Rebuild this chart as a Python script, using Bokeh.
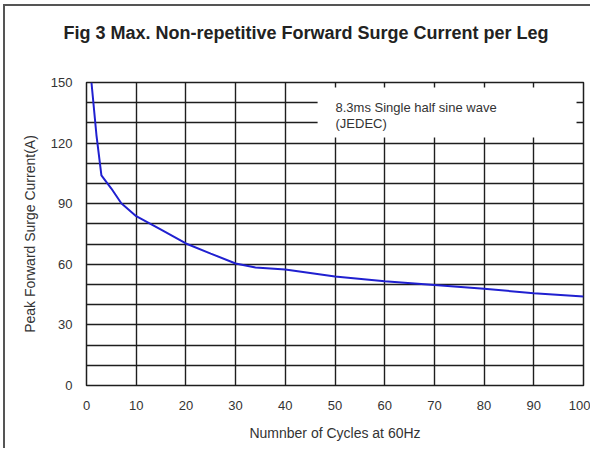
from bokeh.plotting import figure
from bokeh.models import Range1d, FixedTicker, BoxAnnotation, Label
from bokeh.embed import file_html
from bokeh.resources import INLINE

# ---- data ----
cycles = [1, 2, 3, 5, 7, 10, 15, 20, 25, 30, 34, 40, 50, 60, 70, 80, 90, 100]
surge_current = [150, 124, 104, 97.5, 90.2, 83.8, 77.2, 70.3, 65.3, 60.4,
                 58.4, 57.4, 54, 51.6, 49.8, 47.9, 45.7, 44]
x_ticks = [0, 10, 20, 30, 40, 50, 60, 70, 80, 90, 100]
y_ticks = [0, 30, 60, 90, 120, 150]
y_grid = [0, 10, 20, 30, 40, 50, 60, 70, 80, 90, 100, 110, 120, 130, 140, 150]

title_text = "Fig 3 Max. Non-repetitive Forward Surge Current per Leg"
x_label = "Numnber of Cycles at 60Hz"
y_label = "Peak Forward Surge Current(A)"
note_lines = ["8.3ms Single half sine wave", "(JEDEC)"]

FONT = "Liberation Sans"
GRID = "#1e1e1e"

p = figure(width=590, height=448, output_backend="svg", toolbar_location=None,
           x_range=Range1d(0, 100), y_range=Range1d(0, 150),
           min_border_left=86, min_border_right=7,
           min_border_top=82, min_border_bottom=63)

# thin frame lines at the top and left of the picture
p.styles = {
    "background": "linear-gradient(#555,#555) 3px 4px / 2px 100% no-repeat, "
                  "linear-gradient(#555,#555) 3px 4px / 100% 2px no-repeat, white"
}

# title: an empty second line gives the title panel extra height so the
# title sits higher above the frame
p.title.text = title_text + "\n "
p.title.text_font = FONT
p.title.text_font_size = "18px"
p.title.text_font_style = "bold"
p.title.text_color = "#222222"
p.title.align = "left"
p.title.vertical_align = "top"
p.title.offset = -23
p.title.standoff = 36

p.background_fill_color = "white"
p.border_fill_color = None
p.outline_line_color = GRID
p.outline_line_width = 1.5

# grids
p.xgrid.ticker = FixedTicker(ticks=x_ticks)
p.ygrid.ticker = FixedTicker(ticks=y_grid)
for g in (p.xgrid, p.ygrid):
    g.grid_line_color = GRID
    g.grid_line_width = 1.4
    g.grid_line_alpha = 1

# axes
p.xaxis.ticker = FixedTicker(ticks=x_ticks)
p.yaxis.ticker = FixedTicker(ticks=y_ticks)
for ax in (p.xaxis, p.yaxis):
    ax.axis_line_color = None
    ax.major_tick_line_color = None
    ax.minor_tick_line_color = None
    ax.major_tick_out = 0
    ax.major_tick_in = 0
    ax.minor_tick_out = 0
    ax.minor_tick_in = 0
    ax.major_label_text_font = FONT
    ax.major_label_text_font_size = "13px"
    ax.major_label_text_color = "#333333"
    ax.axis_label_text_font = FONT
    ax.axis_label_text_font_size = "14px"
    ax.axis_label_text_font_style = "normal"
    ax.axis_label_text_color = "#333333"

p.xaxis.axis_label = x_label
p.yaxis.axis_label = y_label
p.xaxis.major_label_standoff = 15
p.yaxis.major_label_standoff = 14
p.xaxis.axis_label_standoff = 12
p.yaxis.axis_label_standoff = 10

# curve
p.line(cycles, surge_current, line_color="#2020d0", line_width=2)

# annotation box (white background hiding the grid)
box = BoxAnnotation(left=46.5, right=98.6, bottom=122.8, top=147.5,
                    fill_color="white", fill_alpha=1, line_color=None)
p.add_layout(box)

for txt, yy in zip(note_lines, [137.8, 129.7]):
    p.add_layout(Label(x=50.1, y=yy, text=txt, text_font=FONT,
                       text_font_size="13px", text_color="#333333",
                       text_baseline="middle", text_align="left"))

open("out.html", "w").write(file_html(p, INLINE))
